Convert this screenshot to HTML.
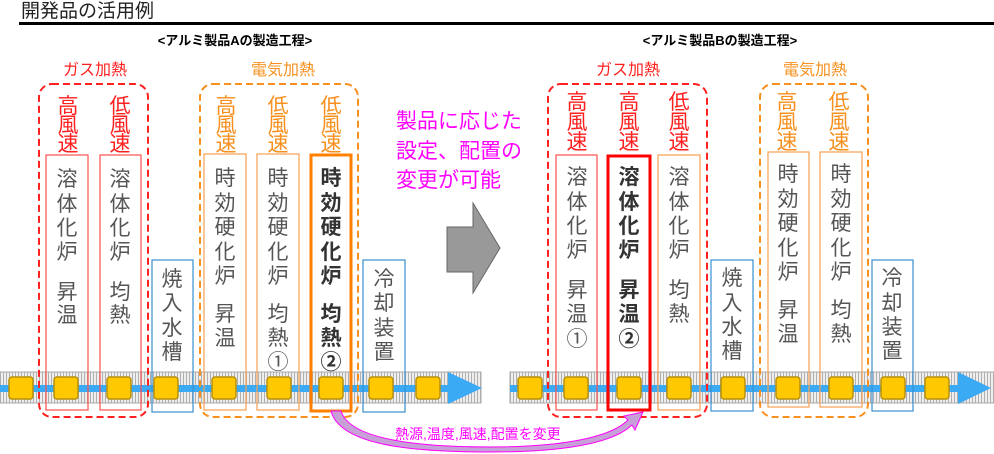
<!DOCTYPE html>
<html><head><meta charset="utf-8"><style>
html,body{margin:0;padding:0;background:#fff;width:994px;height:454px;overflow:hidden}
svg{display:block;font-family:"Liberation Sans","Noto Sans CJK JP",sans-serif}
.g{fill:#555;font-size:21px;text-anchor:middle}
.gb{fill:#333;font-size:21px;text-anchor:middle;font-weight:bold}
.r{fill:#ff2020;font-size:21px;text-anchor:middle}
.o{fill:#f7901e;font-size:21px;text-anchor:middle}
</style></head><body>
<svg width="994" height="454" viewBox="0 0 994 454" xmlns="http://www.w3.org/2000/svg">
<defs>
<pattern id="st" width="3" height="10" patternUnits="userSpaceOnUse">
<rect width="3" height="10" fill="#eee"/><rect width="1" height="10" fill="#b0b0b0"/>
</pattern>
</defs>
<text x="21" y="17" font-size="19" fill="#222">開発品の活用例</text>
<rect x="19" y="22" width="975" height="3" fill="#000"/>
<text x="235" y="45" font-size="13" font-weight="bold" text-anchor="middle" fill="#000">&lt;アルミ製品Aの製造工程&gt;</text>
<text x="720" y="45" font-size="13" font-weight="bold" text-anchor="middle" fill="#000">&lt;アルミ製品Bの製造工程&gt;</text>

<!-- conveyors -->
<rect x="0" y="372" width="481" height="31" fill="url(#st)" stroke="#aaa"/>
<rect x="0" y="385" width="452" height="7" fill="#3aaaf5"/>
<polygon points="448,372 482,388 448,404" fill="#3aaaf5"/>
<rect x="510" y="372" width="484" height="31" fill="url(#st)" stroke="#aaa"/>
<rect x="510" y="385" width="452" height="7" fill="#3aaaf5"/>
<polygon points="958,372 991,388 958,404" fill="#3aaaf5"/>
<g fill="#ffc800" stroke="#b8900a" stroke-width="1.5">
<rect x="9" y="377" width="24" height="22" rx="3"/>
<rect x="54" y="377" width="24" height="22" rx="3"/>
<rect x="107" y="377" width="24" height="22" rx="3"/>
<rect x="154" y="377" width="24" height="22" rx="3"/>
<rect x="212" y="377" width="24" height="22" rx="3"/>
<rect x="267" y="377" width="24" height="22" rx="3"/>
<rect x="319" y="377" width="24" height="22" rx="3"/>
<rect x="369" y="377" width="24" height="22" rx="3"/>
<rect x="416" y="377" width="24" height="22" rx="3"/>
<rect x="518" y="377" width="24" height="22" rx="3"/>
<rect x="564" y="377" width="24" height="22" rx="3"/>
<rect x="617" y="377" width="24" height="22" rx="3"/>
<rect x="667" y="377" width="24" height="22" rx="3"/>
<rect x="721" y="377" width="24" height="22" rx="3"/>
<rect x="776" y="377" width="24" height="22" rx="3"/>
<rect x="829" y="377" width="24" height="22" rx="3"/>
<rect x="881" y="377" width="24" height="22" rx="3"/>
<rect x="925" y="377" width="24" height="22" rx="3"/>
</g>

<!-- dashed groups -->
<g fill="none" stroke-width="2" stroke-dasharray="7 4">
<rect x="39" y="84" width="109" height="333" rx="13" stroke="#ff2020"/>
<rect x="200" y="84" width="158" height="333" rx="13" stroke="#f7901e"/>
<rect x="548" y="84" width="159" height="333" rx="13" stroke="#ff2020"/>
<rect x="760" y="84" width="108" height="333" rx="13" stroke="#f7901e"/>
</g>
<text x="95" y="75" class="r" style="font-size:16px">ガス加熱</text>
<text x="283" y="75" class="o" style="font-size:16px">電気加熱</text>
<text x="628" y="75" class="r" style="font-size:16px">ガス加熱</text>
<text x="815" y="75" class="o" style="font-size:16px">電気加熱</text>

<!-- boxes -->
<g fill="none" stroke-width="1.2">
<rect x="46" y="155" width="42" height="255" stroke="#ff5050"/>
<rect x="100" y="155" width="41" height="255" stroke="#ff5050"/>
<rect x="152" y="260" width="41" height="152" stroke="#3a8fd0"/>
<rect x="204" y="154" width="42" height="256" stroke="#f7a050"/>
<rect x="257" y="154" width="42" height="256" stroke="#f7a050"/>
<rect x="363" y="260" width="42" height="152" stroke="#3a8fd0"/>
<rect x="556" y="155" width="41" height="255" stroke="#ff5050"/>
<rect x="658" y="155" width="42" height="255" stroke="#f7a050"/>
<rect x="711" y="260" width="42" height="151" stroke="#3a8fd0"/>
<rect x="768" y="152" width="41" height="255" stroke="#f7a050"/>
<rect x="820" y="152" width="42" height="255" stroke="#f7a050"/>
<rect x="872" y="260" width="41" height="151" stroke="#3a8fd0"/>
</g>
<rect x="311" y="155" width="40" height="256" fill="none" stroke="#ff8000" stroke-width="3"/>
<rect x="608" y="156" width="42" height="254" fill="none" stroke="#ff0000" stroke-width="3"/>

<!-- speed labels -->
<text class="r"><tspan x="68" y="113">高</tspan><tspan x="68" y="132">風</tspan><tspan x="68" y="151">速</tspan></text>
<text class="r"><tspan x="120" y="113">低</tspan><tspan x="120" y="132">風</tspan><tspan x="120" y="151">速</tspan></text>
<text class="o"><tspan x="226" y="113">高</tspan><tspan x="226" y="132">風</tspan><tspan x="226" y="151">速</tspan></text>
<text class="o"><tspan x="278" y="113">低</tspan><tspan x="278" y="132">風</tspan><tspan x="278" y="151">速</tspan></text>
<text class="o"><tspan x="331" y="113">低</tspan><tspan x="331" y="132">風</tspan><tspan x="331" y="151">速</tspan></text>
<text class="r"><tspan x="577" y="109">高</tspan><tspan x="577" y="129">風</tspan><tspan x="577" y="149">速</tspan></text>
<text class="r"><tspan x="629" y="109">高</tspan><tspan x="629" y="129">風</tspan><tspan x="629" y="149">速</tspan></text>
<text class="r"><tspan x="679" y="109">低</tspan><tspan x="679" y="129">風</tspan><tspan x="679" y="149">速</tspan></text>
<text class="o"><tspan x="787" y="109">高</tspan><tspan x="787" y="129">風</tspan><tspan x="787" y="149">速</tspan></text>
<text class="o"><tspan x="839" y="109">低</tspan><tspan x="839" y="129">風</tspan><tspan x="839" y="149">速</tspan></text>

<!-- box texts left -->
<text class="g"><tspan x="67" y="186">溶</tspan><tspan x="67" y="211">体</tspan><tspan x="67" y="235">化</tspan><tspan x="67" y="259">炉</tspan><tspan x="67" y="299">昇</tspan><tspan x="67" y="322">温</tspan></text>
<text class="g"><tspan x="120" y="186">溶</tspan><tspan x="120" y="211">体</tspan><tspan x="120" y="235">化</tspan><tspan x="120" y="259">炉</tspan><tspan x="120" y="299">均</tspan><tspan x="120" y="322">熱</tspan></text>
<text class="g"><tspan x="172" y="286">焼</tspan><tspan x="172" y="310">入</tspan><tspan x="172" y="335">水</tspan><tspan x="172" y="359">槽</tspan></text>
<text class="g"><tspan x="225" y="185">時</tspan><tspan x="225" y="210">効</tspan><tspan x="225" y="234">硬</tspan><tspan x="225" y="259">化</tspan><tspan x="225" y="283">炉</tspan><tspan x="225" y="321">昇</tspan><tspan x="225" y="345">温</tspan></text>
<text class="g"><tspan x="278" y="185">時</tspan><tspan x="278" y="210">効</tspan><tspan x="278" y="234">硬</tspan><tspan x="278" y="259">化</tspan><tspan x="278" y="283">炉</tspan><tspan x="278" y="321">均</tspan><tspan x="278" y="345">熱</tspan><tspan x="278" y="369">①</tspan></text>
<text class="gb"><tspan x="331" y="185">時</tspan><tspan x="331" y="210">効</tspan><tspan x="331" y="234">硬</tspan><tspan x="331" y="259">化</tspan><tspan x="331" y="283">炉</tspan><tspan x="331" y="321">均</tspan><tspan x="331" y="345">熱</tspan><tspan x="331" y="369">②</tspan></text>
<text class="g"><tspan x="384" y="286">冷</tspan><tspan x="384" y="310">却</tspan><tspan x="384" y="335">装</tspan><tspan x="384" y="359">置</tspan></text>

<!-- box texts right -->
<text class="g"><tspan x="577" y="184">溶</tspan><tspan x="577" y="209">体</tspan><tspan x="577" y="233">化</tspan><tspan x="577" y="257">炉</tspan><tspan x="577" y="297">昇</tspan><tspan x="577" y="321">温</tspan><tspan x="577" y="346">①</tspan></text>
<text class="gb"><tspan x="629" y="184">溶</tspan><tspan x="629" y="209">体</tspan><tspan x="629" y="233">化</tspan><tspan x="629" y="257">炉</tspan><tspan x="629" y="297">昇</tspan><tspan x="629" y="321">温</tspan><tspan x="629" y="346">②</tspan></text>
<text class="g"><tspan x="679" y="184">溶</tspan><tspan x="679" y="209">体</tspan><tspan x="679" y="233">化</tspan><tspan x="679" y="257">炉</tspan><tspan x="679" y="297">均</tspan><tspan x="679" y="321">熱</tspan></text>
<text class="g"><tspan x="732" y="285">焼</tspan><tspan x="732" y="310">入</tspan><tspan x="732" y="334">水</tspan><tspan x="732" y="358">槽</tspan></text>
<text class="g"><tspan x="788" y="181">時</tspan><tspan x="788" y="206">効</tspan><tspan x="788" y="230">硬</tspan><tspan x="788" y="255">化</tspan><tspan x="788" y="279">炉</tspan><tspan x="788" y="317">昇</tspan><tspan x="788" y="341">温</tspan></text>
<text class="g"><tspan x="841" y="181">時</tspan><tspan x="841" y="206">効</tspan><tspan x="841" y="230">硬</tspan><tspan x="841" y="255">化</tspan><tspan x="841" y="279">炉</tspan><tspan x="841" y="317">均</tspan><tspan x="841" y="341">熱</tspan></text>
<text class="g"><tspan x="892" y="285">冷</tspan><tspan x="892" y="310">却</tspan><tspan x="892" y="334">装</tspan><tspan x="892" y="358">置</tspan></text>

<!-- magenta note -->
<text fill="#ff00ff" font-size="21"><tspan x="396" y="128">製品に応じた</tspan><tspan x="396" y="158">設定、配置の</tspan><tspan x="396" y="187">変更が可能</tspan></text>

<!-- gray block arrow -->
<polygon points="447,227 473,227 473,203 500,248 473,293 473,272 447,272" fill="#999" stroke="#666" stroke-width="1"/>

<!-- curved arrow -->
<path d="M331,411 L341,411 C350,440 420,447 490,447 C560,447 610,438 628,420 L624,416 L643,412 L635,430 L632,425 C612,444 560,452 490,452 C410,452 340,445 331,411 Z" fill="#c8a0d8" stroke="#ff00ff" stroke-width="1"/>
<text x="395" y="439" font-size="14" fill="#ff00ff">熱源,温度,風速,配置を変更</text>
</svg>
</body></html>
